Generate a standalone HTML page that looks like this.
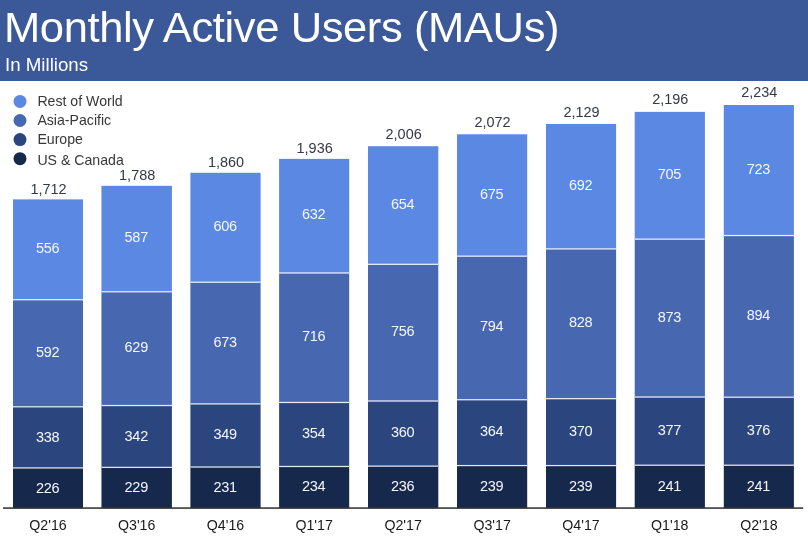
<!DOCTYPE html>
<html><head><meta charset="utf-8"><title>Monthly Active Users (MAUs)</title>
<style>
html,body{margin:0;padding:0;}
body{width:808px;height:539px;position:relative;overflow:hidden;background:#fff;font-family:"Liberation Sans",sans-serif;}
.hdr{position:absolute;left:0;top:0;width:808px;height:80.5px;background:#3b5998;}
.title{position:absolute;left:4.4px;top:2.1px;font-size:42.5px;line-height:52px;color:#fff;white-space:nowrap;letter-spacing:-0.4px;transform:scaleX(1.0245);transform-origin:0 0;}
.sub{position:absolute;left:5.2px;top:54.25px;font-size:17.9px;line-height:22px;color:#fff;white-space:nowrap;letter-spacing:0px;transform:scaleX(1.045);transform-origin:0 0;}
.L{position:absolute;left:0;top:0;width:808px;height:539px;will-change:transform;}
.v{position:absolute;width:70px;text-align:center;font-size:14.5px;line-height:16px;color:#f4f7fe;white-space:nowrap;letter-spacing:-0.3px;}
.t{position:absolute;width:90px;text-align:center;font-size:14.45px;line-height:16px;color:#333948;white-space:nowrap;}
.q{position:absolute;width:90px;text-align:center;font-size:14.2px;line-height:16px;color:#1a1a1a;white-space:nowrap;}
.lg{position:absolute;left:37.4px;font-size:14.13px;line-height:16px;color:#383838;white-space:nowrap;}
.chart{position:absolute;left:0;top:0;}
</style></head><body>
<div class="hdr"></div>
<div class="L">
<div class="title">Monthly Active Users (MAUs)</div>
<div class="sub">In Millions</div>

<svg class="chart" width="808" height="539" viewBox="0 0 808 539"><rect x="13.00" y="467.53" width="70.00" height="40.57" fill="#17284d"/><rect x="13.00" y="406.40" width="70.00" height="61.73" fill="#2b467e"/><rect x="13.00" y="299.34" width="70.00" height="107.66" fill="#4768b1"/><rect x="13.00" y="199.38" width="70.00" height="100.55" fill="#5b88e3"/><rect x="13.00" y="467.30" width="70.00" height="1.25" fill="#fff" fill-opacity="0.88"/><rect x="13.00" y="406.18" width="70.00" height="1.25" fill="#fff" fill-opacity="0.88"/><rect x="13.00" y="299.11" width="70.00" height="1.25" fill="#fff" fill-opacity="0.88"/><rect x="101.45" y="466.99" width="70.45" height="41.11" fill="#17284d"/><rect x="101.45" y="405.13" width="70.45" height="62.45" fill="#2b467e"/><rect x="101.45" y="291.38" width="70.45" height="114.35" fill="#4768b1"/><rect x="101.45" y="185.82" width="70.45" height="106.16" fill="#5b88e3"/><rect x="101.45" y="466.76" width="70.45" height="1.25" fill="#fff" fill-opacity="0.88"/><rect x="101.45" y="404.91" width="70.45" height="1.25" fill="#fff" fill-opacity="0.88"/><rect x="101.45" y="291.16" width="70.45" height="1.25" fill="#fff" fill-opacity="0.88"/><rect x="190.40" y="466.62" width="70.20" height="41.48" fill="#17284d"/><rect x="190.40" y="403.51" width="70.20" height="63.72" fill="#2b467e"/><rect x="190.40" y="281.79" width="70.20" height="122.31" fill="#4768b1"/><rect x="190.40" y="172.80" width="70.20" height="109.60" fill="#5b88e3"/><rect x="190.40" y="466.40" width="70.20" height="1.25" fill="#fff" fill-opacity="0.88"/><rect x="190.40" y="403.28" width="70.20" height="1.25" fill="#fff" fill-opacity="0.88"/><rect x="190.40" y="281.57" width="70.20" height="1.25" fill="#fff" fill-opacity="0.88"/><rect x="279.10" y="466.08" width="70.10" height="42.02" fill="#17284d"/><rect x="279.10" y="402.06" width="70.10" height="64.62" fill="#2b467e"/><rect x="279.10" y="272.57" width="70.10" height="130.09" fill="#4768b1"/><rect x="279.10" y="158.87" width="70.10" height="114.30" fill="#5b88e3"/><rect x="279.10" y="465.86" width="70.10" height="1.25" fill="#fff" fill-opacity="0.88"/><rect x="279.10" y="401.84" width="70.10" height="1.25" fill="#fff" fill-opacity="0.88"/><rect x="279.10" y="272.35" width="70.10" height="1.25" fill="#fff" fill-opacity="0.88"/><rect x="368.00" y="465.72" width="70.30" height="42.38" fill="#17284d"/><rect x="368.00" y="400.61" width="70.30" height="65.71" fill="#2b467e"/><rect x="368.00" y="263.89" width="70.30" height="137.32" fill="#4768b1"/><rect x="368.00" y="146.21" width="70.30" height="118.28" fill="#5b88e3"/><rect x="368.00" y="465.49" width="70.30" height="1.25" fill="#fff" fill-opacity="0.88"/><rect x="368.00" y="400.39" width="70.30" height="1.25" fill="#fff" fill-opacity="0.88"/><rect x="368.00" y="263.67" width="70.30" height="1.25" fill="#fff" fill-opacity="0.88"/><rect x="457.00" y="465.18" width="70.20" height="42.92" fill="#17284d"/><rect x="457.00" y="399.35" width="70.20" height="66.43" fill="#2b467e"/><rect x="457.00" y="255.75" width="70.20" height="144.19" fill="#4768b1"/><rect x="457.00" y="134.28" width="70.20" height="122.07" fill="#5b88e3"/><rect x="457.00" y="464.95" width="70.20" height="1.25" fill="#fff" fill-opacity="0.88"/><rect x="457.00" y="399.12" width="70.20" height="1.25" fill="#fff" fill-opacity="0.88"/><rect x="457.00" y="255.53" width="70.20" height="1.25" fill="#fff" fill-opacity="0.88"/><rect x="546.00" y="465.18" width="70.10" height="42.92" fill="#17284d"/><rect x="546.00" y="398.26" width="70.10" height="67.51" fill="#2b467e"/><rect x="546.00" y="248.52" width="70.10" height="150.34" fill="#4768b1"/><rect x="546.00" y="123.97" width="70.10" height="125.15" fill="#5b88e3"/><rect x="546.00" y="464.95" width="70.10" height="1.25" fill="#fff" fill-opacity="0.88"/><rect x="546.00" y="398.04" width="70.10" height="1.25" fill="#fff" fill-opacity="0.88"/><rect x="546.00" y="248.29" width="70.10" height="1.25" fill="#fff" fill-opacity="0.88"/><rect x="634.70" y="464.82" width="70.20" height="43.28" fill="#17284d"/><rect x="634.70" y="396.63" width="70.20" height="68.78" fill="#2b467e"/><rect x="634.70" y="238.75" width="70.20" height="158.48" fill="#4768b1"/><rect x="634.70" y="111.85" width="70.20" height="127.50" fill="#5b88e3"/><rect x="634.70" y="464.59" width="70.20" height="1.25" fill="#fff" fill-opacity="0.88"/><rect x="634.70" y="396.41" width="70.20" height="1.25" fill="#fff" fill-opacity="0.88"/><rect x="634.70" y="238.53" width="70.20" height="1.25" fill="#fff" fill-opacity="0.88"/><rect x="723.80" y="464.82" width="70.10" height="43.28" fill="#17284d"/><rect x="723.80" y="396.82" width="70.10" height="68.60" fill="#2b467e"/><rect x="723.80" y="235.14" width="70.10" height="162.28" fill="#4768b1"/><rect x="723.80" y="104.98" width="70.10" height="130.75" fill="#5b88e3"/><rect x="723.80" y="464.59" width="70.10" height="1.25" fill="#fff" fill-opacity="0.88"/><rect x="723.80" y="396.59" width="70.10" height="1.25" fill="#fff" fill-opacity="0.88"/><rect x="723.80" y="234.91" width="70.10" height="1.25" fill="#fff" fill-opacity="0.88"/><rect x="3" y="507.3" width="800.2" height="1.55" fill="#343434"/><circle cx="20.0" cy="101.45" r="6.5" fill="#5b88e3"/><circle cx="20.0" cy="120.52" r="6.5" fill="#4768b1"/><circle cx="20.0" cy="139.59" r="6.5" fill="#2b467e"/><circle cx="20.0" cy="158.66" r="6.5" fill="#17284d"/></svg>
<div class="lg" style="top:92.80px">Rest of World</div>
<div class="lg" style="top:112.10px">Asia-Pacific</div>
<div class="lg" style="top:130.60px">Europe</div>
<div class="lg" style="top:151.70px">US &amp; Canada</div>
<div class="v" style="left:12.60px;top:479.56px">226</div>
<div class="v" style="left:12.60px;top:428.56px">338</div>
<div class="v" style="left:12.60px;top:343.77px">592</div>
<div class="v" style="left:12.60px;top:239.96px">556</div>
<div class="t" style="left:3.50px;top:180.88px">1,712</div>
<div class="q" style="left:3.00px;top:516.70px">Q2'16</div>
<div class="v" style="left:101.28px;top:479.29px">229</div>
<div class="v" style="left:101.28px;top:427.66px">342</div>
<div class="v" style="left:101.28px;top:339.16px">629</div>
<div class="v" style="left:101.28px;top:229.20px">587</div>
<div class="t" style="left:92.18px;top:166.62px">1,788</div>
<div class="q" style="left:91.68px;top:516.70px">Q3'16</div>
<div class="v" style="left:190.10px;top:478.71px">231</div>
<div class="v" style="left:190.10px;top:426.27px">349</div>
<div class="v" style="left:190.10px;top:333.55px">673</div>
<div class="v" style="left:190.10px;top:217.90px">606</div>
<div class="t" style="left:181.00px;top:153.60px">1,860</div>
<div class="q" style="left:180.50px;top:516.70px">Q4'16</div>
<div class="v" style="left:278.75px;top:478.44px">234</div>
<div class="v" style="left:278.75px;top:425.27px">354</div>
<div class="v" style="left:278.75px;top:328.22px">716</div>
<div class="v" style="left:278.75px;top:206.32px">632</div>
<div class="t" style="left:269.65px;top:139.87px">1,936</div>
<div class="q" style="left:269.15px;top:516.70px">Q1'17</div>
<div class="v" style="left:367.75px;top:478.26px">236</div>
<div class="v" style="left:367.75px;top:424.37px">360</div>
<div class="v" style="left:367.75px;top:323.15px">756</div>
<div class="v" style="left:367.75px;top:195.65px">654</div>
<div class="t" style="left:358.65px;top:126.31px">2,006</div>
<div class="q" style="left:358.15px;top:516.70px">Q2'17</div>
<div class="v" style="left:456.70px;top:477.99px">239</div>
<div class="v" style="left:456.70px;top:423.46px">364</div>
<div class="v" style="left:456.70px;top:318.45px">794</div>
<div class="v" style="left:456.70px;top:185.62px">675</div>
<div class="t" style="left:447.60px;top:113.78px">2,072</div>
<div class="q" style="left:447.10px;top:516.70px">Q3'17</div>
<div class="v" style="left:545.65px;top:477.99px">239</div>
<div class="v" style="left:545.65px;top:422.92px">370</div>
<div class="v" style="left:545.65px;top:314.29px">828</div>
<div class="v" style="left:545.65px;top:176.84px">692</div>
<div class="t" style="left:536.55px;top:103.67px">2,129</div>
<div class="q" style="left:536.05px;top:516.70px">Q4'17</div>
<div class="v" style="left:634.40px;top:477.81px">241</div>
<div class="v" style="left:634.40px;top:421.92px">377</div>
<div class="v" style="left:634.40px;top:308.59px">873</div>
<div class="v" style="left:634.40px;top:165.90px">705</div>
<div class="t" style="left:625.30px;top:90.95px">2,196</div>
<div class="q" style="left:624.80px;top:516.70px">Q1'18</div>
<div class="v" style="left:723.45px;top:477.81px">241</div>
<div class="v" style="left:723.45px;top:422.02px">376</div>
<div class="v" style="left:723.45px;top:306.88px">894</div>
<div class="v" style="left:723.45px;top:160.66px">723</div>
<div class="t" style="left:714.35px;top:83.68px">2,234</div>
<div class="q" style="left:713.85px;top:516.70px">Q2'18</div>
</div>
</body></html>
